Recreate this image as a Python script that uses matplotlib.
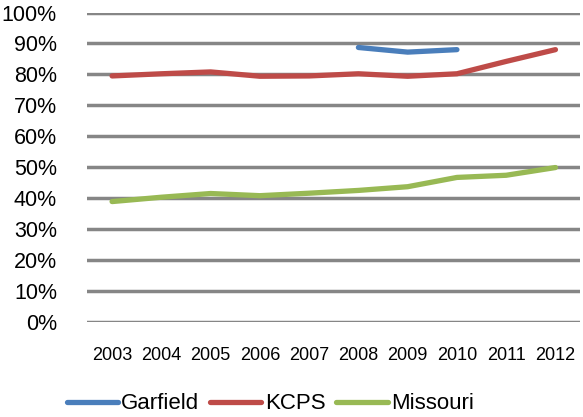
import numpy as np
import matplotlib.pyplot as plt
from matplotlib.ticker import PercentFormatter

years = ['2003', '2004', '2005', '2006', '2007', '2008', '2009', '2010', '2011', '2012']
garfield = [np.nan, np.nan, np.nan, np.nan, np.nan, 88.7, 87.2, 88.0, np.nan, np.nan]
kcps = [79.5, 80.2, 80.8, 79.4, 79.5, 80.2, 79.4, 80.2, 84.2, 88.0]
missouri = [38.9, 40.3, 41.5, 40.8, 41.6, 42.5, 43.7, 46.7, 47.4, 49.9]

plt.rcParams['font.family'] = ['Liberation Sans', 'DejaVu Sans']

fig, ax = plt.subplots(figsize=(5.83, 4.17), dpi=100)
fig.subplots_adjust(left=0.15, right=0.995, top=0.97, bottom=0.228)

x = np.arange(len(years))
ax.plot(x, garfield, color='#4A7EBB', lw=3.8, label='Garfield', solid_capstyle='round')
ax.plot(x, kcps, color='#BE4B48', lw=3.8, label='KCPS', solid_capstyle='round')
ax.plot(x, missouri, color='#98B954', lw=3.8, label='Missouri', solid_capstyle='round')

ax.set_ylim(0, 100)
ax.set_yticks(np.arange(0, 101, 10))
ax.yaxis.set_major_formatter(PercentFormatter(decimals=0))
ax.set_xlim(-0.5, len(years) - 0.5)
ax.set_xticks(x)
ax.set_xticklabels(years)
ax.tick_params(length=0)
ax.tick_params(axis='x', labelsize=13, pad=18)
ax.tick_params(axis='y', labelsize=15.5, pad=22)
ax.grid(axis='y', color='#868686', lw=2.5)
ax.set_axisbelow(True)
for s in ax.spines.values():
    s.set_visible(False)

ax.legend(loc='center', bbox_to_anchor=(0.371, -0.265), ncol=3, frameon=False,
          fontsize=16, handlelength=2.3, handletextpad=0.15, columnspacing=0.5)

fig.savefig('out.png')
